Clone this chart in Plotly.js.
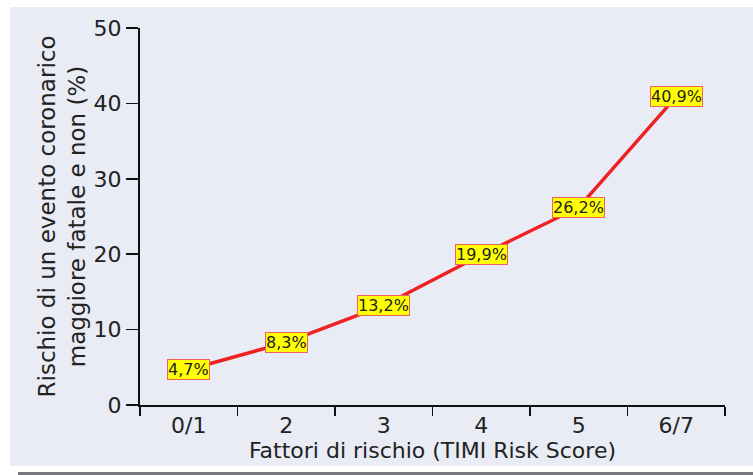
<!DOCTYPE html>
<html>
<head>
<meta charset="utf-8">
<script src="https://cdn.plot.ly/plotly-3.0.1.min.js"></script>
<style>
html,body{margin:0;padding:0;background:#ffffff;width:753px;height:475px;overflow:hidden;}
#panel{position:absolute;left:10px;top:7px;width:743px;height:459px;background:#e9ecf5;}
#rule{position:absolute;left:18px;top:472px;width:735px;height:3px;background:#77787c;}
#chart{position:absolute;left:0;top:0;width:753px;height:475px;}
</style>
</head>
<body>
<div id="panel"></div>
<div id="rule"></div>
<div id="chart"></div>
<script>
const categories = ["0/1", "2", "3", "4", "5", "6/7"];
const riskValues = [4.7, 8.3, 13.2, 19.9, 26.2, 40.9];
const valueLabels = ["4,7%", "8,3%", "13,2%", "19,9%", "26,2%", "40,9%"];
const yTickValues = [0, 10, 20, 30, 40, 50];

const font = "DejaVu Sans, Verdana, sans-serif";

const trace = {
  x: categories,
  y: riskValues,
  type: "scatter",
  mode: "lines",
  line: {color: "#ee2222", width: 3.5},
  hoverinfo: "skip"
};

const annotations = categories.map((c, i) => ({
  x: i, y: riskValues[i], xref: "x", yref: "y",
  text: valueLabels[i], showarrow: false,
  font: {family: font, size: 16, color: "#222222"},
  bgcolor: "#ffff00", bordercolor: "#f06060", borderwidth: 1, borderpad: 0,
  xanchor: "center", yanchor: "middle"
}));

const layout = {
  width: 753, height: 475,
  margin: {l: 140, r: 28, t: 28, b: 70},
  paper_bgcolor: "rgba(0,0,0,0)",
  plot_bgcolor: "rgba(0,0,0,0)",
  showlegend: false,
  font: {family: font, color: "#222222"},
  xaxis: {
    type: "category",
    range: [-0.5, 5.5],
    tickson: "boundaries",
    ticks: "outside", ticklen: 9, tickwidth: 1.5, tickcolor: "#111111",
    showline: true, linecolor: "#111111", linewidth: 2,
    showgrid: false, zeroline: false,
    tickfont: {family: font, size: 22, color: "#222222"},
    title: {text: "Fattori di rischio (TIMI Risk Score)", font: {family: font, size: 22, color: "#222222"}, standoff: 4}
  },
  yaxis: {
    range: [0, 50],
    tickvals: yTickValues,
    ticktext: yTickValues.map(String),
    ticks: "outside", ticklen: 12, tickwidth: 1.5, tickcolor: "#111111",
    showline: true, linecolor: "#111111", linewidth: 2,
    showgrid: false, zeroline: false,
    tickfont: {family: font, size: 22, color: "#222222"},
    title: {text: "Rischio di un evento coronarico<br>maggiore fatale e non (%)", font: {family: font, size: 23, color: "#222222"}, standoff: 2}
  },
  annotations: annotations
};

Plotly.newPlot("chart", [trace], layout, {displayModeBar: false, staticPlot: true});
</script>
</body>
</html>
